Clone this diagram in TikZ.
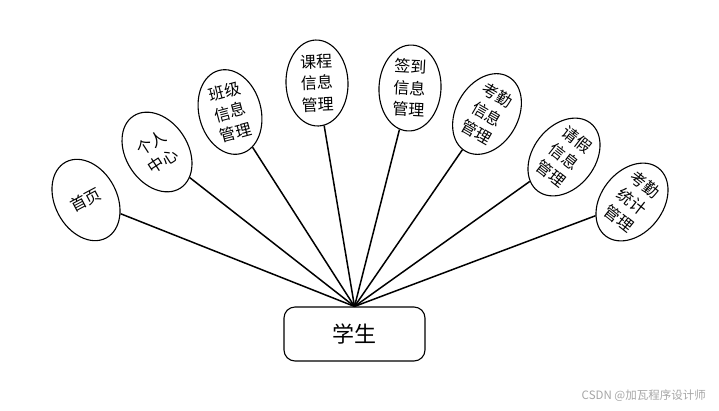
\documentclass[tikz,border=0pt]{standalone}
\usepackage{fontspec}
\newfontfamily\cjk{Noto Sans CJK SC}
\usetikzlibrary{shapes.geometric}

\begin{document}
\begin{tikzpicture}[x=1pt, y=-1pt,
    func/.style={draw, ellipse, line width=1.1pt, minimum width=62pt, minimum height=86pt, inner sep=0pt, align=center, font=\cjk\fontsize{16}{21.5}\selectfont},
    actor/.style={draw, rounded corners=11pt, line width=1.1pt, minimum width=141pt, minimum height=54pt, font=\cjk\fontsize{22}{24}\selectfont},
    link/.style={line width=1.5pt},
    wmark/.style={font=\cjk\fontsize{11.5}{13}\selectfont, text=black!35, anchor=east, inner sep=0pt}
]
\useasboundingbox (0,0) rectangle (719,410);

\node[actor] (stu) at (354.5,334) {学生};

\node[func, rotate=28] (f1) at (86,200) {首页};
\node[func, rotate=33] (f2) at (157,152) {个人\\中心};
\node[func, rotate=15] (f3) at (230,112) {班级\\信息\\管理};
\node[func, rotate=2] (f4) at (317,83) {课程\\信息\\管理};
\node[func, rotate=-3] (f5) at (410,88) {签到\\信息\\管理};
\node[func, rotate=-30] (f6) at (487,114) {考勤\\信息\\管理};
\node[func, rotate=-38] (f7) at (564,157) {请假\\信息\\管理};
\node[func, rotate=-38] (f8) at (632,202) {考勤\\统计\\管理};

\foreach \f in {f1,f2,f3,f4,f5,f6,f7,f8}
    \draw[link] (stu.north) -- (\f);

\node[wmark] (wm) at (706,396) {CSDN @加瓦程序设计师};
\end{tikzpicture}
\end{document}
